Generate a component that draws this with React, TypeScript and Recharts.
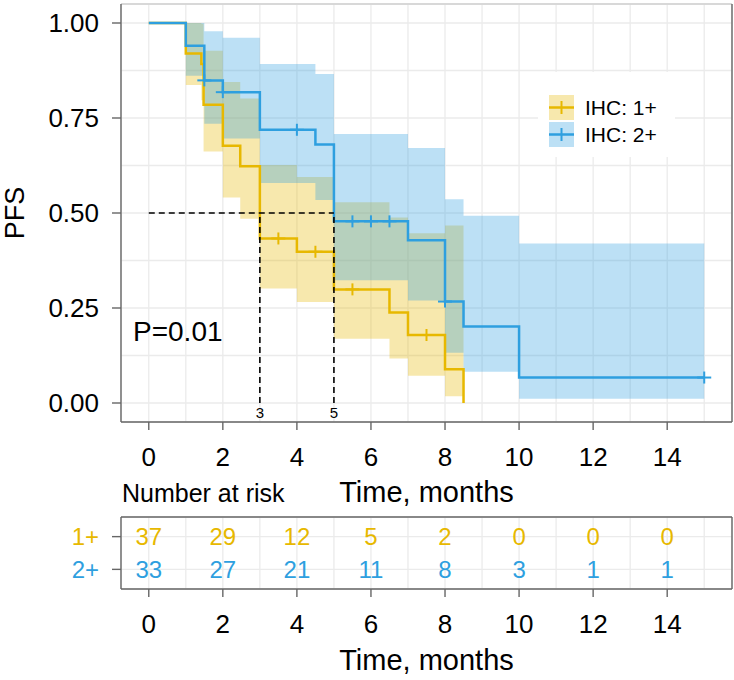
import React from 'react';
import {
  ComposedChart,
  Line,
  Area,
  Scatter,
  XAxis,
  YAxis,
  CartesianGrid,
  ReferenceLine,
} from 'recharts';

const FONT = '"Liberation Sans", Arial, Helvetica, sans-serif';
const ORANGE = '#E7B800';
const BLUE = '#2E9FDF';
const AXIS = '#666666';
const GRID = '#EBEBEB';
const BAND_OPACITY = 0.32;

// IHC: 1+ (Kaplan-Meier estimate, step times in months)
const timeA = [0, 1, 1.42, 1.48, 2, 2.47, 3, 4, 5, 6.5, 7, 8, 8.5];
const survA = [1, 0.92, 0.892, 0.785, 0.677, 0.623, 0.433, 0.398, 0.299, 0.238, 0.179, 0.089, 0];
const lowA = [1, 0.837, 0.797, 0.662, 0.541, 0.485, 0.301, 0.266, 0.169, 0.117, 0.072, 0.018, 0.018];
const upA = [1, 1, 0.998, 0.927, 0.845, 0.801, 0.626, 0.595, 0.528, 0.488, 0.447, 0.467, 0.467];
const censorTimeA = [3.5, 4.5, 5.5, 7.5];
const censorSurvA = [0.433, 0.398, 0.299, 0.179];

// IHC: 2+
const timeB = [0, 1, 1.5, 2, 3, 4.5, 5, 7, 8, 8.5, 10, 15];
const survB = [1, 0.94, 0.849, 0.818, 0.719, 0.68, 0.478, 0.428, 0.267, 0.201, 0.067, 0.067];
const lowB = [1, 0.861, 0.735, 0.696, 0.579, 0.534, 0.323, 0.27, 0.132, 0.082, 0.011, 0.011];
const upB = [1, 1, 0.978, 0.961, 0.892, 0.866, 0.708, 0.671, 0.536, 0.493, 0.42, 0.42];
const censorTimeB = [1.5, 2, 4, 5.5, 6, 6.5, 8, 15];
const censorSurvB = [0.849, 0.818, 0.719, 0.478, 0.478, 0.478, 0.267, 0.067];

const medianLevel = 0.5;
const medianTimes = [3, 5];

// risk table
const riskTimes = [0, 2, 4, 6, 8, 10, 12, 14];
const riskA = [37, 29, 12, 5, 2, 0, 0, 0];
const riskB = [33, 27, 21, 11, 8, 3, 1, 1];
const strata = ['1+', '2+'];
const strataRow = [2, 1];
const legendLabels = ['IHC: 1+', 'IHC: 2+'];

const xTicks = [0, 1, 2, 3, 4, 5, 6, 7, 8, 9, 10, 11, 12, 13, 14, 15];
const yTicks = [0, 0.125, 0.25, 0.375, 0.5, 0.625, 0.75, 0.875, 1];

const toLine = (ts: number[], ss: number[]) => ts.map((t, i) => ({ t, s: ss[i] }));
const toBand = (ts: number[], lo: number[], up: number[]) =>
  ts.map((t, i) => ({ t, band: [lo[i], up[i]] }));

const lineA = toLine(timeA, survA);
const lineB = toLine(timeB, survB);
const bandA = toBand(timeA, lowA, upA);
const bandB = toBand(timeB, lowB, upB);
const censA = toLine(censorTimeA, censorSurvA);
const censB = toLine(censorTimeB, censorSurvB);
const riskRowsA = riskTimes.map((t, i) => ({ t, row: strataRow[0], n: riskA[i] }));
const riskRowsB = riskTimes.map((t, i) => ({ t, row: strataRow[1], n: riskB[i] }));

const XTick = (props: any) => {
  const { x, y, payload } = props;
  const v = payload.value;
  if (v % 2 !== 0 || v > 14) return <g />;
  return (
    <g>
      <line x1={x} x2={x} y1={y} y2={y + 8} stroke={AXIS} strokeWidth={1.4} />
      <text x={x} y={y + 44} textAnchor="middle" fontSize={26} fontFamily={FONT} fill="#000">
        {v}
      </text>
    </g>
  );
};

const YTick = (props: any) => {
  const { x, y, payload } = props;
  const v = payload.value;
  if (Math.round(v * 1000) % 250 !== 0) return <g />;
  return (
    <g>
      <line x1={x - 9} x2={x} y1={y} y2={y} stroke={AXIS} strokeWidth={1.4} />
      <text x={x - 22} y={y} dy="0.36em" textAnchor="end" fontSize={26} fontFamily={FONT} fill="#000">
        {v.toFixed(2)}
      </text>
    </g>
  );
};

const RiskTick = (props: any) => {
  const { x, y, payload } = props;
  const i = strataRow.indexOf(payload.value);
  if (i < 0) return <g />;
  return (
    <g>
      <line x1={x - 9} x2={x} y1={y} y2={y} stroke={AXIS} strokeWidth={1.4} />
      <text x={x - 22} y={y} dy="0.36em" textAnchor="end" fontSize={24} fontFamily={FONT} fill={i === 0 ? ORANGE : BLUE}>
        {strata[i]}
      </text>
    </g>
  );
};

const cross = (color: string) => (p: any) => (
  <g stroke={color} strokeWidth={2}>
    <line x1={p.cx - 7} x2={p.cx + 7} y1={p.cy} y2={p.cy} />
    <line x1={p.cx} x2={p.cx} y1={p.cy - 6} y2={p.cy + 6} />
  </g>
);

const riskNum = (color: string) => (p: any) => (
  <text x={p.cx} y={p.cy} dy="0.36em" textAnchor="middle" fontSize={24} fontFamily={FONT} fill={color}>
    {p.payload.n}
  </text>
);

const LegendBox = () => (
  <div
    style={{
      position: 'absolute',
      left: 538,
      top: 72,
      width: 137,
      height: 85,
      background: '#fff',
      fontFamily: FONT,
    }}
  >
    {legendLabels.map((label, i) => {
      const c = i === 0 ? ORANGE : BLUE;
      return (
        <div
          key={label}
          style={{ position: 'absolute', left: 11, top: 23 + i * 27, height: 25, display: 'flex', alignItems: 'center' }}
        >
          <svg width={25} height={25} style={{ display: 'block' }}>
            <rect width={25} height={25} fill={c} fillOpacity={BAND_OPACITY} />
            <line x1={0} x2={25} y1={12.5} y2={12.5} stroke={c} strokeWidth={2.5} />
            <line x1={12.5} x2={12.5} y1={6} y2={19} stroke={c} strokeWidth={2} />
          </svg>
          <span style={{ marginLeft: 11, fontSize: 21, color: '#000', lineHeight: '25px', whiteSpace: 'nowrap' }}>{label}</span>
        </div>
      );
    })}
  </div>
);

export default function App() {
  const medMax = Math.max(...medianTimes);
  return (
    <div style={{ position: 'absolute', left: 0, top: 0, width: 734, height: 680, background: '#fff', fontFamily: FONT }}>
      <div style={{ position: 'absolute', left: 0, top: 0 }}>
        <ComposedChart width={734} height={512} margin={{ top: 4, right: 2, bottom: 0, left: 0 }}>
          <CartesianGrid stroke={GRID} strokeWidth={1.3} />
          <XAxis
            type="number"
            dataKey="t"
            domain={[-0.75, 15.75]}
            allowDataOverflow
            ticks={xTicks}
            interval={0}
            tickSize={0}
            tickMargin={0}
            tickLine={false}
            tick={<XTick />}
            axisLine={{ stroke: AXIS, strokeWidth: 1.4 }}
            height={90}
            label={{ value: 'Time, months', position: 'insideBottom', offset: 10, fontSize: 29, fill: '#000', fontFamily: FONT }}
          />
          <YAxis
            type="number"
            domain={[-0.05, 1.05]}
            allowDataOverflow
            ticks={yTicks}
            interval={0}
            tickSize={0}
            tickMargin={0}
            tickLine={false}
            tick={<YTick />}
            axisLine={{ stroke: AXIS, strokeWidth: 1.4 }}
            width={121}
            label={{
              value: 'PFS',
              angle: -90,
              position: 'insideLeft',
              offset: 14,
              fontSize: 27,
              fill: '#000',
              fontFamily: FONT,
              style: { textAnchor: 'middle' },
            }}
          />
          <ReferenceLine y={1.05} stroke="#D0D0D0" strokeWidth={1.4} />
          <ReferenceLine x={15.75} stroke={AXIS} strokeWidth={1.4} />

          <Line data={lineA} dataKey="s" type="stepAfter" stroke={ORANGE} strokeWidth={2.5} dot={false} isAnimationActive={false} />
          <Line data={lineB} dataKey="s" type="stepAfter" stroke={BLUE} strokeWidth={2.5} dot={false} isAnimationActive={false} />
          <Scatter data={censA} dataKey="s" shape={cross(ORANGE)} isAnimationActive={false} />
          <Scatter data={censB} dataKey="s" shape={cross(BLUE)} isAnimationActive={false} />
          <Area data={bandA} dataKey="band" type="stepAfter" stroke="none" fill={ORANGE} fillOpacity={BAND_OPACITY} isAnimationActive={false} />
          <Area data={bandB} dataKey="band" type="stepAfter" stroke="none" fill={BLUE} fillOpacity={BAND_OPACITY} isAnimationActive={false} />

          <ReferenceLine
            segment={[{ x: 0, y: medianLevel }, { x: medMax, y: medianLevel }]}
            stroke="#000"
            strokeWidth={1.6}
            strokeDasharray="6 4"
          />
          {medianTimes.map((m) => (
            <ReferenceLine
              key={m}
              segment={[{ x: m, y: 0 }, { x: m, y: medianLevel }]}
              stroke="#000"
              strokeWidth={1.6}
              strokeDasharray="6 4"
              label={{ value: String(m), position: 'bottom', offset: 4, fontSize: 15, fill: '#000', fontFamily: FONT }}
            />
          ))}
        </ComposedChart>
      </div>

      <div style={{ position: 'absolute', left: 0, top: 512 }}>
        <ComposedChart width={734} height={168} margin={{ top: 5, right: 2, bottom: 0, left: 0 }}>
          <CartesianGrid stroke={GRID} strokeWidth={1.3} />
          <XAxis
            type="number"
            dataKey="t"
            domain={[-0.75, 15.75]}
            allowDataOverflow
            ticks={xTicks}
            interval={0}
            tickSize={0}
            tickMargin={0}
            tickLine={false}
            tick={<XTick />}
            axisLine={{ stroke: AXIS, strokeWidth: 1.4 }}
            height={91}
            label={{ value: 'Time, months', position: 'insideBottom', offset: 10, fontSize: 29, fill: '#000', fontFamily: FONT }}
          />
          <YAxis
            type="number"
            domain={[0.4, 2.6]}
            allowDataOverflow
            ticks={strataRow}
            interval={0}
            tickSize={0}
            tickMargin={0}
            tickLine={false}
            tick={<RiskTick />}
            axisLine={{ stroke: AXIS, strokeWidth: 1.4 }}
            width={121}
          />
          <ReferenceLine y={2.6} stroke={AXIS} strokeWidth={1.4} />
          <ReferenceLine x={15.75} stroke={AXIS} strokeWidth={1.4} />
          <Scatter data={riskRowsA} dataKey="row" shape={riskNum(ORANGE)} isAnimationActive={false} />
          <Scatter data={riskRowsB} dataKey="row" shape={riskNum(BLUE)} isAnimationActive={false} />
        </ComposedChart>
      </div>

      <div style={{ position: 'absolute', left: 133, top: 318, fontSize: 28, lineHeight: '28px', color: '#000' }}>P=0.01</div>
      <div style={{ position: 'absolute', left: 122, top: 481, fontSize: 25, lineHeight: '25px', color: '#000' }}>
        Number at risk
      </div>
      <LegendBox />
    </div>
  );
}
